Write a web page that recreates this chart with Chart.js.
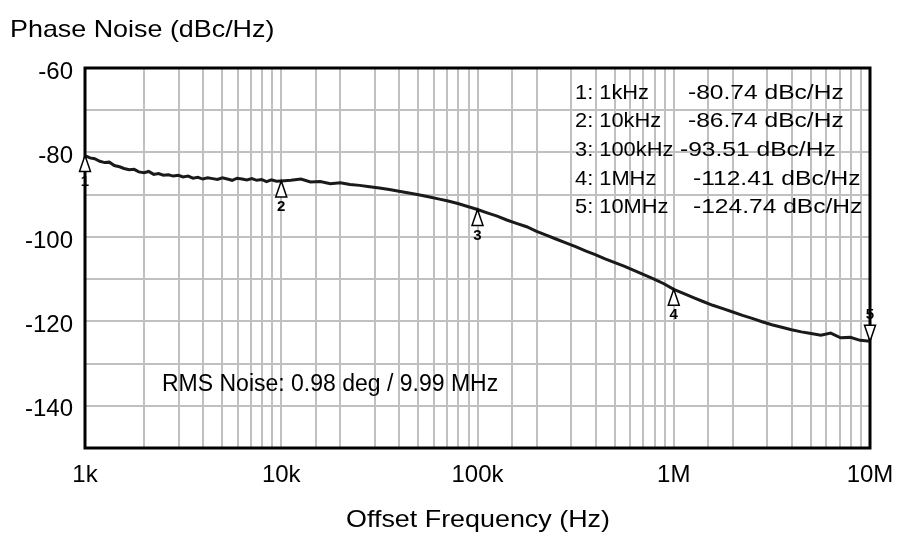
<!DOCTYPE html>
<html>
<head>
<meta charset="utf-8">
<script src="https://cdn.jsdelivr.net/npm/chart.js@4.4.1/dist/chart.umd.min.js"></script>
<style>
  html, body { margin: 0; padding: 0; background: #fff; }
  #wrap { width: 901px; height: 539px; }
</style>
</head>
<body>
<div id="wrap"><canvas id="pnChart" width="901" height="539"></canvas></div>
<script>
// --- Chart Data ---
const freqs = [
  1000, 1060, 1120, 1190, 1260, 1330, 1410, 1500, 1580, 1680, 1780, 1880, 2000, 2110, 2240, 2370, 2510, 2660, 2820, 2990,
  3160, 3350, 3550, 3760, 3980, 4220, 4470, 4730, 5010, 5310, 5620, 5960, 6310, 6680, 7080, 7500, 7940, 8410, 8910, 9440,
  10000, 11200, 12600, 14100, 15800, 17800, 20000, 22400, 25100, 28200, 31600, 35500, 39800, 44700, 50100, 56200, 63100, 70800, 79400, 89100,
  100000, 112000, 126000, 141000, 158000, 178000, 200000, 224000, 251000, 282000, 316000, 355000, 398000, 447000, 501000, 562000, 631000, 708000, 794000, 891000,
  1000000, 1120000, 1260000, 1410000, 1580000, 1780000, 2000000, 2240000, 2510000, 2820000, 3160000, 3550000, 3980000, 4470000, 5010000, 5620000, 6310000, 7080000, 7940000, 8910000,
  10000000
];
const noise = [
  -80.74, -81.3, -81.5, -82.1, -82.4, -82.3, -83.1, -83.4, -83.8, -84.1, -84.0, -84.6, -84.8, -84.5, -85.2, -85.0, -85.4, -85.3, -85.6, -85.4,
  -85.8, -85.6, -86.1, -85.9, -86.3, -86.0, -86.2, -86.4, -86.0, -86.3, -86.6, -86.1, -86.3, -86.5, -86.2, -86.6, -86.4, -86.9, -86.5, -86.8,
  -86.74, -86.6, -86.3, -87.0, -86.9, -87.4, -87.2, -87.6, -87.8, -88.1, -88.4, -88.8, -89.2, -89.6, -90.0, -90.5, -91.0, -91.5, -92.1, -92.8,
  -93.51, -94.3, -95.1, -96.0, -96.8, -97.6, -98.7, -99.6, -100.5, -101.4, -102.3, -103.3, -104.2, -105.2, -106.1, -107.0, -108.0, -109.0, -110.0, -111.1,
  -112.41, -113.4, -114.4, -115.3, -116.2, -117.0, -117.8, -118.6, -119.3, -120.1, -120.8, -121.4, -122.0, -122.5, -122.9, -123.3, -122.8, -123.9, -123.8, -124.5,
  -124.74
];
const markerFreqs = [1000, 10000, 100000, 1000000, 10000000];
const markerValues = [-80.74, -86.74, -93.51, -112.41, -124.74];
const markerFreqText = ['1kHz', '10kHz', '100kHz', '1MHz', '10MHz'];
const markerValueText = ['-80.74 dBc/Hz', '-86.74 dBc/Hz', '-93.51 dBc/Hz', '-112.41 dBc/Hz', '-124.74 dBc/Hz'];
const xTickValues = [1000, 10000, 100000, 1000000, 10000000];
const xTickLabels = ['1k', '10k', '100k', '1M', '10M'];
const yTickLabels = [-60, -80, -100, -120, -140];

const FONT = '"Liberation Sans", Arial, sans-serif';

// draw text squeezed/stretched horizontally
function drawText(ctx, text, x, y, size, sx, align) {
  ctx.save();
  ctx.font = size + 'px ' + FONT;
  ctx.fillStyle = '#000';
  ctx.textBaseline = 'middle';
  ctx.textAlign = align || 'left';
  ctx.translate(x, y);
  ctx.scale(sx, 1);
  ctx.fillText(text, 0, 0);
  ctx.restore();
}

const framePlugin = {
  id: 'frame',
  beforeDatasetsDraw(chart) {
    const { ctx, chartArea: a } = chart;
    ctx.save();
    ctx.strokeStyle = '#000';
    ctx.lineWidth = 3;
    ctx.strokeRect(a.left, a.top, a.right - a.left, a.bottom - a.top);
    ctx.restore();
  },
  afterDatasetsDraw(chart) {
    const { ctx, scales } = chart;
    // markers
    markerFreqs.forEach((f, i) => {
      const px = scales.x.getPixelForValue(f);
      const py = scales.y.getPixelForValue(markerValues[i]);
      const down = i === markerFreqs.length - 1;
      const dir = down ? -1 : 1;
      ctx.save();
      ctx.beginPath();
      ctx.moveTo(px, py);
      ctx.lineTo(px - 5.5, py + dir * 16);
      ctx.lineTo(px + 5.5, py + dir * 16);
      ctx.closePath();
      ctx.fillStyle = '#fff';
      ctx.fill();
      ctx.strokeStyle = '#000';
      ctx.lineWidth = 1.5;
      ctx.stroke();
      ctx.font = 'bold 15px ' + FONT;
      ctx.fillStyle = '#000';
      ctx.textAlign = 'center';
      ctx.textBaseline = 'middle';
      ctx.fillText(String(i + 1), px, py + dir * 26);
      ctx.restore();
    });
    // marker table
    const valueX = [688, 688, 680, 693, 693];
    markerFreqText.forEach((t, i) => {
      const y = 93 + i * 28.6;
      drawText(ctx, (i + 1) + ': ' + t, 575, y, 21, 1.04);
      drawText(ctx, markerValueText[i], valueX[i], y, 21, 1.17);
    });
    drawText(ctx, 'RMS Noise: 0.98 deg / 9.99 MHz', 162, 385, 23, 1.0);
  },
  afterDraw(chart) {
    const { ctx } = chart;
    drawText(ctx, 'Phase Noise (dBc/Hz)', 10, 30, 24, 1.12);
    drawText(ctx, 'Offset Frequency (Hz)', 478, 520, 24, 1.12, 'center');
  }
};

const ctx = document.getElementById('pnChart').getContext('2d');
const pnChart = new Chart(ctx, {
  type: 'line',
  data: {
    datasets: [{
      data: freqs.map((f, i) => ({ x: f, y: noise[i] })),
      borderColor: '#1a1a1a',
      borderWidth: 3,
      pointRadius: 0,
      tension: 0,
      fill: false
    }]
  },
  options: {
    responsive: false,
    animation: false,
    layout: { padding: { left: 0, right: 31, top: 68, bottom: 0 } },
    plugins: {
      legend: { display: false },
      title: { display: false },
      tooltip: { enabled: false }
    },
    scales: {
      x: {
        type: 'logarithmic',
        min: 1000,
        max: 10000000,
        afterFit(scale) {
          scale.height = 91;
          scale.paddingLeft = 0;
          scale.paddingRight = 0;
        },
        grid: { color: '#c0c0c0', lineWidth: 2, drawTicks: false },
        border: { display: false },
        ticks: {
          autoSkip: false,
          maxRotation: 0,
          padding: 13,
          color: '#000',
          font: { family: FONT, size: 24 },
          callback: (v) => {
            const k = xTickValues.indexOf(Number(v));
            return k >= 0 ? xTickLabels[k] : '';
          }
        }
      },
      y: {
        min: -150,
        max: -60,
        afterFit(scale) {
          scale.width = 85;
          scale.paddingTop = 0;
          scale.paddingBottom = 0;
        },
        grid: { color: '#c0c0c0', lineWidth: 2, drawTicks: false },
        border: { display: false },
        ticks: {
          stepSize: 10,
          padding: 12,
          labelOffset: 4,
          color: '#000',
          font: { family: FONT, size: 24 },
          callback: (v) => yTickLabels.includes(v) ? String(v) : ''
        }
      }
    }
  },
  plugins: [framePlugin]
});
</script>
</body>
</html>
